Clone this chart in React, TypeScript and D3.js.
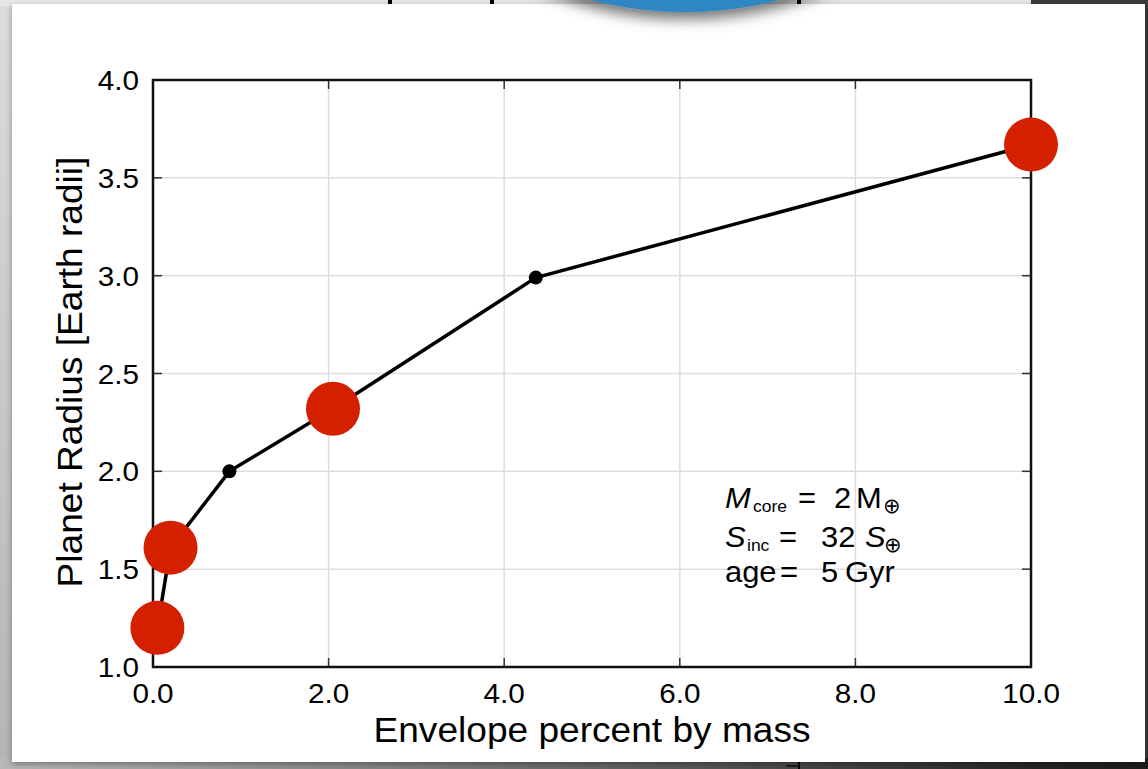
import React from "react";
import * as d3 from "d3";

// Envelope mass fraction (%) vs. resulting planet radius for a 2 Earth-mass core
const envelopePct = [0.05, 0.2, 0.87, 2.05, 4.36, 10.0];
const planetRadius = [1.2, 1.61, 2.0, 2.32, 2.99, 3.67];
const highlighted = [true, true, false, true, false, true];

const xTicks = [0, 2, 4, 6, 8, 10];
const yTicks = [1.0, 1.5, 2.0, 2.5, 3.0, 3.5, 4.0];

const W = 1148;
const H = 769;
const FONT = "'Liberation Sans', Arial, Helvetica, sans-serif";
const SYM = "'DejaVu Sans', sans-serif";
const SX = 1.06;

const x = d3.scaleLinear().domain([0, 10]).range([153, 1031]);
const y = d3.scaleLinear().domain([1, 4]).range([667, 80]);

const line = d3
  .line<number>()
  .x((_, i) => x(envelopePct[i]))
  .y((d) => y(d));

function Label({ tx, ty, size, anchor = "middle", rotate = 0, sx = SX, italic = false, family = FONT, children }: any) {
  return (
    <text
      transform={`translate(${tx},${ty}) rotate(${rotate}) scale(${sx},1)`}
      fontSize={size}
      fontFamily={family}
      fontStyle={italic ? "italic" : "normal"}
      textAnchor={anchor}
      fill="#000"
    >
      {children}
    </text>
  );
}

export default function App() {
  const [x0, x1] = x.range();
  const [y0, y1] = y.range();
  const tickLen = 9;
  const fmt = d3.format(".1f");
  const A = 1.03; // width factor for the parameter box text

  return (
    <svg
      width={W}
      height={H}
      style={{ position: "absolute", left: 0, top: 0, display: "block" }}
    >
      <defs>
        <linearGradient id="leftEdge" x1="0" y1="0" x2="0" y2="1">
          <stop offset="0" stopColor="#dcdcdc" />
          <stop offset="1" stopColor="#b4b4b4" />
        </linearGradient>
        <linearGradient id="bottomEdge" x1="0" y1="0" x2="1" y2="0">
          <stop offset="0" stopColor="#b8b8b8" />
          <stop offset="0.5" stopColor="#6a6a6a" />
          <stop offset="0.9" stopColor="#262626" />
          <stop offset="1" stopColor="#1c1c1c" />
        </linearGradient>
        <filter id="discShadow" x="-20%" y="-20%" width="140%" height="160%">
          <feDropShadow dx="0" dy="7" stdDeviation="7" floodColor="#000" floodOpacity="0.55" />
        </filter>
        <filter id="cardShadow" x="-5%" y="-5%" width="110%" height="110%">
          <feDropShadow dx="0" dy="2" stdDeviation="3" floodColor="#000" floodOpacity="0.35" />
        </filter>
      </defs>

      {/* surrounding slide area */}
      <rect x={0} y={0} width={W} height={H} fill="url(#leftEdge)" />
      <rect x={0} y={0} width={1031} height={6} fill="#e8e8e8" />
      <rect x={1031} y={0} width={W - 1031} height={6} fill="#3b3b3b" />
      <rect x={1138} y={0} width={10} height={H} fill="#3a3a3a" />
      <rect x={0} y={758} width={W} height={H - 758} fill="url(#bottomEdge)" />
      <rect x={388} y={0} width={4} height={4} fill="#000" />
      <rect x={490} y={0} width={4} height={4} fill="#000" />
      <rect x={797} y={0} width={4} height={5} fill="#000" />
      <line x1={799} y1={762} x2={799} y2={769} stroke="#000" strokeWidth={2} />
      <line x1={786} y1={766} x2={799} y2={766} stroke="#111" strokeWidth={1.5} />

      {/* white card */}
      <rect x={12} y={4} width={1133} height={758} fill="#fff" filter="url(#cardShadow)" />

      {/* blue disc peeking in from the top */}
      <circle cx={685} cy={-370} r={382} fill="#2f87c3" filter="url(#discShadow)" />

      {/* grid */}
      <g stroke="#dedede" strokeWidth={1.5}>
        {xTicks.slice(1, -1).map((t) => (
          <line key={`gx${t}`} x1={x(t)} x2={x(t)} y1={y1} y2={y0} />
        ))}
        {yTicks.slice(1, -1).map((t) => (
          <line key={`gy${t}`} x1={x0} x2={x1} y1={y(t)} y2={y(t)} />
        ))}
      </g>

      {/* model curve */}
      <path
        d={line(planetRadius) || ""}
        fill="none"
        stroke="#000"
        strokeWidth={3.5}
        strokeLinejoin="round"
      />
      {planetRadius.map((r, i) =>
        highlighted[i] ? null : (
          <circle key={`s${i}`} cx={x(envelopePct[i])} cy={y(r)} r={7} fill="#000" />
        )
      )}

      {/* frame and inward ticks */}
      <g stroke="#333" strokeWidth={1.5}>
        {xTicks.map((t) => (
          <g key={`tx${t}`}>
            <line x1={x(t)} x2={x(t)} y1={y0} y2={y0 - tickLen} />
            <line x1={x(t)} x2={x(t)} y1={y1} y2={y1 + tickLen} />
          </g>
        ))}
        {yTicks.map((t) => (
          <g key={`ty${t}`}>
            <line x1={x0} x2={x0 + tickLen} y1={y(t)} y2={y(t)} />
            <line x1={x1} x2={x1 - tickLen} y1={y(t)} y2={y(t)} />
          </g>
        ))}
      </g>
      <rect
        x={x0}
        y={y1}
        width={x1 - x0}
        height={y0 - y1}
        fill="none"
        stroke="#111"
        strokeWidth={2.5}
      />

      {/* highlighted models */}
      {planetRadius.map((r, i) =>
        highlighted[i] ? (
          <circle key={`b${i}`} cx={x(envelopePct[i])} cy={y(r)} r={27} fill="#d52000" />
        ) : null
      )}

      {/* tick labels */}
      {xTicks.map((t) => (
        <Label key={`lx${t}`} tx={x(t)} ty={703} size={28}>
          {fmt(t)}
        </Label>
      ))}
      {yTicks.map((t) => (
        <Label key={`ly${t}`} tx={139} ty={y(t) + 10} size={28} anchor="end">
          {fmt(t)}
        </Label>
      ))}

      {/* axis titles */}
      <Label tx={592} ty={742} size={35}>
        Envelope percent by mass
      </Label>
      <Label tx={82} ty={372} size={35} rotate={-90}>
        Planet Radius [Earth radii]
      </Label>

      {/* model parameters */}
      <Label tx={725} ty={508} size={30} sx={A} anchor="start" italic>M</Label>
      <Label tx={753} ty={512} size={17} sx={A} anchor="start">core</Label>
      <Label tx={798} ty={508} size={30} sx={A} anchor="start">=</Label>
      <Label tx={834} ty={508} size={30} sx={A} anchor="start">2</Label>
      <Label tx={856} ty={508} size={30} sx={A} anchor="start">M</Label>
      <Label tx={883} ty={513} size={21} sx={1} anchor="start" family={SYM}>⊕</Label>

      <Label tx={725} ty={547} size={30} sx={A} anchor="start" italic>S</Label>
      <Label tx={747} ty={551} size={17} sx={A} anchor="start">inc</Label>
      <Label tx={779} ty={547} size={30} sx={A} anchor="start">=</Label>
      <Label tx={821} ty={547} size={30} sx={A} anchor="start">32</Label>
      <Label tx={865} ty={547} size={30} sx={A} anchor="start" italic>S</Label>
      <Label tx={884} ty={552} size={21} sx={1} anchor="start" family={SYM}>⊕</Label>

      <Label tx={725} ty={582} size={30} sx={A} anchor="start">age</Label>
      <Label tx={780} ty={582} size={30} sx={A} anchor="start">=</Label>
      <Label tx={821} ty={582} size={30} sx={A} anchor="start">5</Label>
      <Label tx={845} ty={582} size={30} sx={A} anchor="start">Gyr</Label>
    </svg>
  );
}
